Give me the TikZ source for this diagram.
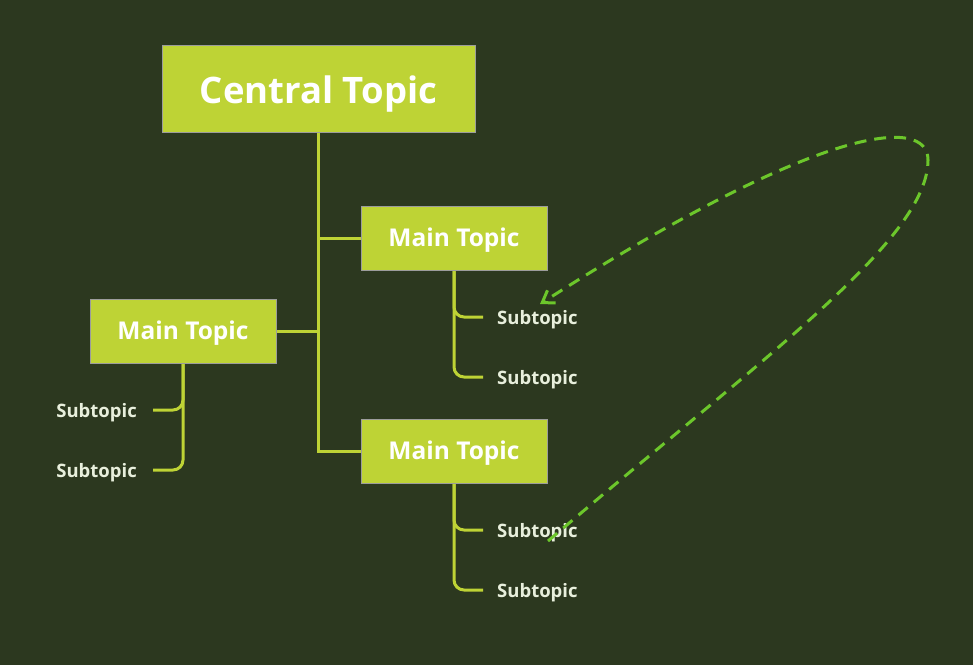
\documentclass[tikz,border=0pt]{standalone}
\usepackage{fontspec}
\setmainfont{Open Sans}
\usetikzlibrary{arrows.meta}
\definecolor{bg}{HTML}{2C381F}
\definecolor{boxfill}{HTML}{BED335}
\definecolor{boxline}{HTML}{9C9C9C}
\definecolor{subtext}{HTML}{E8EFDC}
\definecolor{dashgreen}{HTML}{6CC62B}
\tikzset{
  central/.style={draw=boxline, line width=1pt, fill=boxfill, minimum width=313pt, minimum height=87pt, inner sep=0pt, text=white, text height=29pt, text depth=0pt, font=\fontsize{36.5}{40}\selectfont\bfseries},
  mainbox/.style={draw=boxline, line width=1pt, fill=boxfill, minimum width=186pt, minimum height=64pt, inner sep=0pt, text=white, text height=16pt, text depth=0pt, font=\fontsize{24.5}{28}\selectfont\bfseries},
  subt/.style={inner sep=0pt, text=subtext, text height=14pt, text depth=0pt, font=\fontsize{18.5}{22}\selectfont\bfseries},
  conn/.style={draw=boxfill, line width=3pt},
  rel/.style={draw=dashgreen, line width=3pt, dash pattern=on 12pt off 8pt, -{Straight Barb[length=11pt,width=15pt,line width=3pt]}}
}
\begin{document}
\begin{tikzpicture}[x=1pt,y=-1pt]
\fill[bg] (0,0) rectangle (973,665);
\useasboundingbox (0,0) rectangle (973,665);
\node[central] (c) at (318.5,88.5) {Central Topic};
\node[mainbox] (m1) at (454,238) {Main Topic};
\node[mainbox] (m2) at (183,331) {Main Topic};
\node[mainbox] (m3) at (454,451) {Main Topic};
\node[subt, anchor=base west] (s11) at (497,324) {Subtopic};
\node[subt, anchor=base west] (s12) at (497,384) {Subtopic};
\node[subt, anchor=base west] (s31) at (497,537) {Subtopic};
\node[subt, anchor=base west] (s32) at (497,597) {Subtopic};
\node[subt, anchor=base east] (s21) at (137,417) {Subtopic};
\node[subt, anchor=base east] (s22) at (137,477) {Subtopic};
\draw[conn] (c.south) |- (m1.west);
\draw[conn] (c.south) |- (m3.west);
\draw[conn] (m2.east) -| (c.south |- m2.east);
\draw[conn, rounded corners=10pt] (m1.south) |- ([xshift=-14pt]s11.west);
\draw[conn, rounded corners=10pt] (m1.south) |- ([xshift=-14pt]s12.west);
\draw[conn, rounded corners=10pt] (m3.south) |- ([xshift=-14pt]s31.west);
\draw[conn, rounded corners=10pt] (m3.south) |- ([xshift=-14pt]s32.west);
\draw[conn, rounded corners=10pt] (m2.south) |- ([xshift=16pt]s21.east);
\draw[conn, rounded corners=10pt] (m2.south) |- ([xshift=16pt]s22.east);
% nodes redrawn on top of connector ends
\node[central] at (c) {Central Topic};
\node[mainbox] at (m1) {Main Topic};
\node[mainbox] at (m2) {Main Topic};
\node[mainbox] at (m3) {Main Topic};
\coordinate (ds) at (548,541);
\coordinate (dm) at (928,160);
\coordinate (de) at (540,304);
\draw[rel] (ds) .. controls (760,360) and (928,240) .. (dm)
  .. controls (928,115) and (820,125) .. (de);
\end{tikzpicture}
\end{document}
